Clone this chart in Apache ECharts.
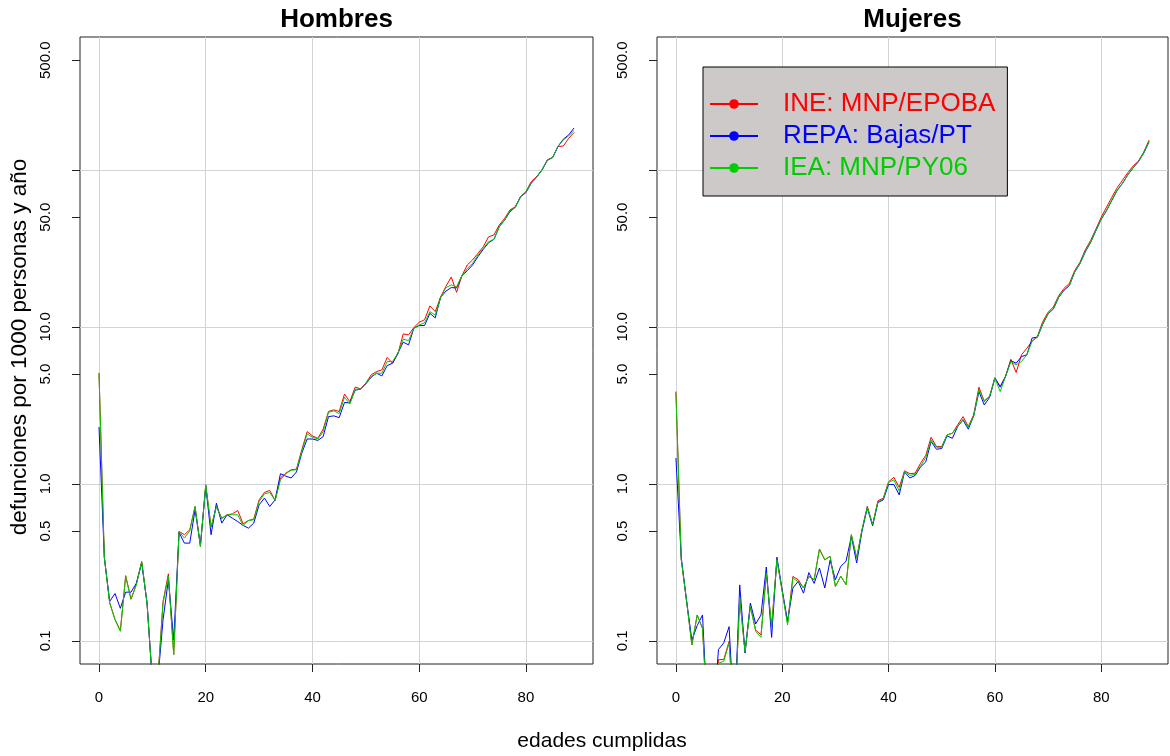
<!DOCTYPE html>
<html><head><meta charset="utf-8">
<script src="https://cdn.jsdelivr.net/npm/echarts@6/dist/echarts.min.js"></script>
<style>html,body{margin:0;padding:0;background:#fff}#c{width:1170px;height:756px}</style>
</head><body><div id="c"></div>
<script>
// ---- data ----
const ages = [0,1,2,3,4,5,6,7,8,9,10,11,12,13,14,15,16,17,18,19,20,21,22,23,24,25,26,27,28,29,30,31,32,33,34,35,36,37,38,39,40,41,42,43,44,45,46,47,48,49,50,51,52,53,54,55,56,57,58,59,60,61,62,63,64,65,66,67,68,69,70,71,72,73,74,75,76,77,78,79,80,81,82,83,84,85,86,87,88,89];

const hombresINE = [5.1,0.34,0.175,0.137,0.116,0.26,0.184,0.23,0.32,0.174,0.055,0.055,0.178,0.267,0.082,0.497,0.474,0.509,0.717,0.399,0.985,0.53,0.717,0.604,0.635,0.644,0.676,0.556,0.584,0.596,0.791,0.881,0.907,0.783,1.09,1.17,1.23,1.24,1.65,2.15,2.02,1.95,2.23,2.89,2.96,2.89,3.73,3.34,4.13,4.03,4.38,4.95,5.19,5.32,6.38,5.87,6.73,9.02,8.89,9.90,10.7,11.1,13.6,12.5,15.5,18.1,20.8,16.6,21.2,24.8,26.7,29.4,32.4,37.5,38.5,44.6,49.1,55.6,58.3,67.6,72.8,84.4,90.6,100,116,120,141,142,159,173];
const hombresREPA = [2.3,0.34,0.178,0.20,0.161,0.204,0.204,0.233,0.313,0.174,0.055,0.055,0.136,0.245,0.101,0.49,0.419,0.419,0.683,0.409,0.962,0.474,0.753,0.562,0.635,0.604,0.575,0.543,0.522,0.562,0.735,0.811,0.717,0.791,1.16,1.12,1.09,1.19,1.57,1.93,1.93,1.89,2.00,2.68,2.71,2.64,3.30,3.28,3.95,4.01,4.33,4.78,5.07,4.87,5.67,5.87,6.80,7.99,7.68,9.81,10.2,10.2,12.2,11.4,15.4,16.9,17.8,17.7,21.2,22.8,24.8,28.0,31.2,34.4,36.1,43.5,47.9,54.2,57.8,67.6,71.7,82.3,89.8,100,115,120,141,157,167,185];
const hombresIEA = [5.0,0.34,0.174,0.136,0.115,0.257,0.184,0.227,0.32,0.174,0.055,0.055,0.174,0.257,0.0815,0.497,0.451,0.50,0.717,0.399,0.985,0.53,0.717,0.60,0.635,0.635,0.635,0.543,0.584,0.59,0.771,0.864,0.881,0.783,1.06,1.16,1.22,1.23,1.61,2.08,1.98,1.93,2.15,2.85,2.92,2.80,3.57,3.22,4.01,4.01,4.33,4.83,5.07,5.07,6.01,6.01,6.80,8.35,8.18,9.81,10.3,10.6,12.5,11.9,15.3,17.8,18.5,18.0,21.2,23.5,25.4,28.7,31.6,34.9,36.1,43.5,47.9,55.0,57.8,67.6,72.4,83.0,89.8,100,115,120,142,155,165,178];

const mujeresINE = [3.87,0.33,0.18,0.094,0.146,0.12,0.03,0.03,0.0757,0.076,0.099,0.03,0.187,0.085,0.166,0.117,0.109,0.27,0.123,0.328,0.206,0.13,0.257,0.245,0.217,0.257,0.245,0.384,0.328,0.345,0.222,0.258,0.228,0.474,0.337,0.51,0.72,0.55,0.78,0.81,1.03,1.10,0.95,1.21,1.16,1.17,1.35,1.52,1.98,1.73,1.73,2.05,2.10,2.38,2.68,2.32,2.75,4.13,3.35,3.62,4.75,4.17,4.85,6.22,5.12,6.63,7.31,8.1,8.7,10.8,12.4,13.4,15.8,17.6,18.9,22.8,25.8,31.0,35.5,42.0,50.0,58,67,77,86,96,106,114,130,155];
const mujeresREPA = [1.46,0.34,0.18,0.101,0.125,0.146,0.03,0.03,0.088,0.097,0.123,0.03,0.227,0.0835,0.174,0.128,0.146,0.295,0.105,0.341,0.21,0.133,0.217,0.239,0.201,0.272,0.232,0.291,0.217,0.326,0.245,0.298,0.321,0.463,0.313,0.50,0.70,0.54,0.76,0.79,0.99,0.99,0.85,1.19,1.09,1.13,1.28,1.38,1.86,1.66,1.68,2.02,1.95,2.32,2.55,2.23,2.70,3.87,3.18,3.55,4.71,4.13,4.83,6.09,5.87,6.47,6.63,8.5,8.6,10.4,12.1,13.0,15.4,17.1,18.3,22.3,25.3,30.0,34.5,41,48.5,55,64,74,82,93,103,113,128,151];
const mujeresIEA = [3.8,0.33,0.18,0.094,0.146,0.12,0.03,0.03,0.072,0.074,0.097,0.03,0.187,0.085,0.166,0.115,0.105,0.27,0.123,0.328,0.206,0.126,0.25,0.239,0.217,0.257,0.245,0.384,0.328,0.345,0.222,0.258,0.228,0.474,0.337,0.51,0.71,0.55,0.77,0.80,1.02,1.06,0.90,1.20,1.13,1.15,1.30,1.47,1.91,1.71,1.71,2.05,2.10,2.32,2.58,2.30,2.70,3.97,3.39,3.60,4.71,3.87,4.83,6.01,5.73,6.01,6.63,8.1,8.6,10.5,12.2,13.1,15.5,17.2,18.4,22.4,25.4,30.2,34.8,41,48.8,55.5,64.5,74.5,82.5,93,103.5,113,129,152];

const seriesNames = ['INE: MNP/EPOBA', 'REPA: Bajas/PT', 'IEA: MNP/PY06'];
const panelTitles = ['Hombres', 'Mujeres'];
const yTickValues = [0.1, 0.5, 1, 5, 10, 50, 100, 500];
const yLabelValues = [0.1, 0.5, 1, 5, 10, 50, 500];
const xTickValues = [0, 20, 40, 60, 80];
const yTitle = 'defunciones por 1000 personas y año';
const xTitle = 'edades cumplidas';

// ---- style / layout ----
const colors = ['#FF0000', '#0000FF', '#00CD00'];
const FONT = '"Liberation Sans", Arial, Helvetica, sans-serif';
const panels = [
  [hombresINE, hombresREPA, hombresIEA],
  [mujeresINE, mujeresREPA, mujeresIEA]
];
// R-style 4% axis expansion: x over 0..89, y (log) over 0.1..500
const xMin = 0 - 0.04 * 89, xMax = 89 + 0.04 * 89;
const lr = Math.log10(500) - Math.log10(0.1);
const yMin = Math.pow(10, Math.log10(0.1) - 0.04 * lr);
const yMax = Math.pow(10, Math.log10(500) + 0.04 * lr);

const grids = [
  {left: 80, top: 37, width: 513, height: 627},
  {left: 657, top: 37, width: 511, height: 627}
];

const xAxes = [], yAxes = [], series = [];
grids.forEach((g, i) => {
  g.show = true; g.borderColor = '#222'; g.borderWidth = 1; g.backgroundColor = 'transparent';
  xAxes.push({
    type: 'value', gridIndex: i, min: xMin, max: xMax,
    axisLine: {show: false, onZero: false},
    axisTick: {show: true, customValues: xTickValues, length: 8, lineStyle: {color: '#222'}},
    axisLabel: {customValues: xTickValues, color: '#000', fontSize: 15, fontFamily: FONT, margin: 26},
    splitLine: {show: true, showMinLine: true, showMaxLine: true, lineStyle: {color: '#D3D3D3', width: 1}}
  });
  // labelled log axis
  yAxes.push({
    type: 'log', logBase: 10, gridIndex: i, min: yMin, max: yMax, position: 'left',
    axisLine: {show: false, onZero: false},
    axisTick: {show: true, customValues: yTickValues, length: 8, lineStyle: {color: '#222'}},
    axisLabel: {customValues: yLabelValues, rotate: 90, color: '#000', fontSize: 15, fontFamily: FONT, margin: 27,
      formatter: v => Number(v).toFixed(1)},
    splitLine: {show: false}
  });
  // grid-line-only log axis (decades)
  yAxes.push({
    type: 'log', logBase: 10, gridIndex: i, min: yMin, max: yMax, position: 'left',
    axisLine: {show: false, onZero: false}, axisTick: {show: false}, axisLabel: {show: false},
    splitLine: {show: true, showMinLine: false, showMaxLine: false, lineStyle: {color: '#D3D3D3', width: 1}}
  });
  panels[i].forEach((vals, k) => {
    series.push({
      type: 'line', name: seriesNames[k], xAxisIndex: i, yAxisIndex: 2 * i,
      data: ages.map((a, j) => [a, vals[j]]),
      showSymbol: false, symbol: 'circle', symbolSize: 10,
      lineStyle: {width: 1, color: colors[k]}, itemStyle: {color: colors[k]},
      clip: true, z: 2 + k, animation: false
    });
  });
});

const chart = echarts.init(document.getElementById('c'), null, {renderer: 'canvas'});
chart.setOption({
  backgroundColor: '#fff',
  animation: false,
  grid: grids,
  xAxis: xAxes,
  yAxis: yAxes,
  series: series,
  legend: {
    orient: 'vertical', left: 703, top: 67,
    backgroundColor: '#CDC9C9', borderColor: '#000', borderWidth: 1,
    padding: [24, 12, 15, 6], itemGap: 6, itemWidth: 48, itemHeight: 12,
    data: seriesNames.map((n, k) => ({name: n, textStyle: {color: colors[k]}})),
    textStyle: {fontSize: 26, fontFamily: FONT, padding: [0, 0, 0, 20]},
    selectedMode: false
  },
  graphic: [
    {type: 'text', x: 336.5, y: 19.5, style: {text: panelTitles[0], font: 'bold 26px ' + FONT, fill: '#000', align: 'center', verticalAlign: 'middle'}},
    {type: 'text', x: 912.5, y: 19.5, style: {text: panelTitles[1], font: 'bold 26px ' + FONT, fill: '#000', align: 'center', verticalAlign: 'middle'}},
    {type: 'text', x: 20, y: 347, rotation: Math.PI / 2, style: {text: yTitle, font: '22.5px ' + FONT, fill: '#000', align: 'center', verticalAlign: 'middle'}},
    {type: 'text', x: 602, y: 741, style: {text: xTitle, font: '21px ' + FONT, fill: '#000', align: 'center', verticalAlign: 'middle'}}
  ]
});
</script></body></html>
